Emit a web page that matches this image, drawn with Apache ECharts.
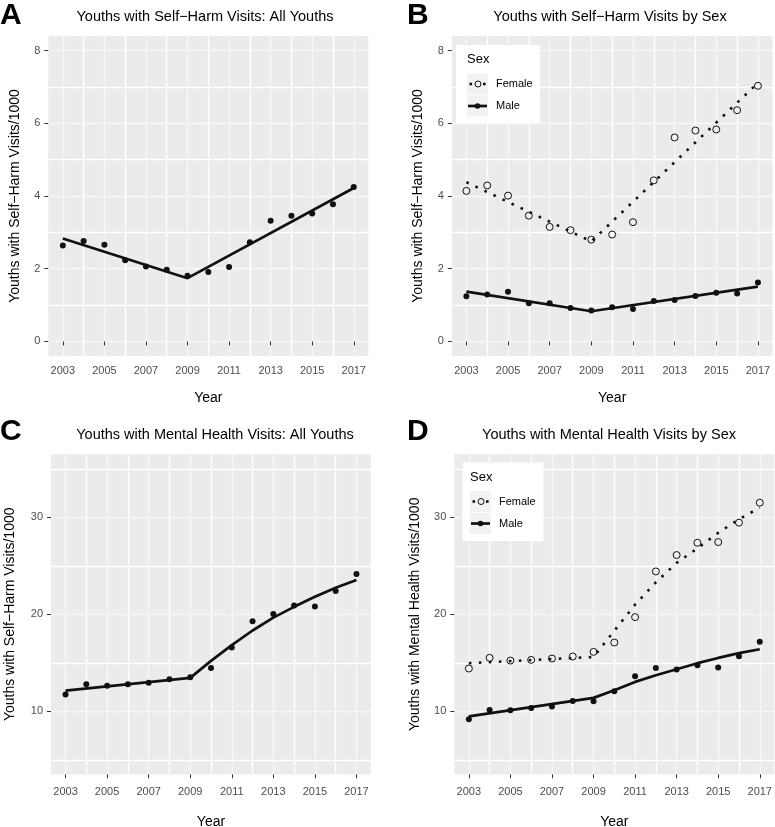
<!DOCTYPE html>
<html>
<head>
<meta charset="utf-8">
<script src="https://cdn.jsdelivr.net/npm/echarts@6/dist/echarts.min.js"></script>
<style>
html,body{margin:0;padding:0;background:#fff;}
#chart{width:775px;height:827px;}
</style>
</head>
<body>
<div id="chart"></div>
<script>
// ---------- data ----------
const years = [2003,2004,2005,2006,2007,2008,2009,2010,2011,2012,2013,2014,2015,2016,2017];
const xTickYears = [2003,2005,2007,2009,2011,2013,2015,2017];
const selfHarmTicks = [0,2,4,6,8];
const mentalTicks = [10,20,30];

// Panel A: self-harm, all youths
const allSelfHarm = [2.64,2.76,2.66,2.23,2.06,1.97,1.81,1.91,2.05,2.73,3.32,3.46,3.52,3.77,4.25];
const fitYearsAllSelfHarm = [2003,2009,2017];
const fitAllSelfHarm = [2.83,1.74,4.22];

// Panel B: self-harm by sex
const femaleSelfHarm = [4.14,4.29,4.01,3.46,3.15,3.06,2.80,2.94,3.28,4.43,5.61,5.80,5.83,6.36,7.03];
const maleSelfHarm = [1.24,1.29,1.37,1.05,1.05,0.92,0.85,0.94,0.89,1.11,1.14,1.25,1.34,1.32,1.62];
const fitYearsSexSelfHarm = [2003,2009,2017];
const fitFemaleSelfHarm = [4.38,2.75,7.11];
const fitMaleSelfHarm = [1.37,0.83,1.51];

// Panel C: mental health, all youths
const allMental = [11.72,12.79,12.62,12.79,12.93,13.30,13.51,14.47,16.57,19.29,20.02,20.91,20.81,22.39,24.15];
const fitYearsAllMental = [2003,2009,2010,2011,2012,2013,2014,2015,2016,2017];
const fitAllMental = [12.13,13.44,15.2,16.82,18.33,19.66,20.77,21.81,22.74,23.53];

// Panel D: mental health by sex
const femaleMental = [14.41,15.51,15.23,15.30,15.44,15.65,16.13,17.09,19.71,24.42,26.11,27.38,27.45,29.45,31.51];
const maleMental = [9.17,10.14,10.10,10.34,10.48,11.07,11.03,12.07,13.61,14.47,14.30,14.75,14.51,15.68,17.16];
const fitYearsSexMental = [2003,2009,2010,2011,2012,2013,2014,2015,2016,2017];
const fitFemaleMental = [14.96,15.6,18.3,21.0,23.3,25.3,26.8,28.4,29.8,31.0];
const fitMaleMental = [9.48,11.38,12.17,13.03,13.72,14.34,14.96,15.5,15.99,16.4];

// ---------- styling / layout ----------
const FONT = "'Liberation Sans', Arial, Helvetica, sans-serif";
const INK = '#111111';
const BG = '#EBEBEB';
const MAJOR = '#FFFFFF';
const MINOR = '#F7F7F7';

const panels = [
  {grid:{left:48.3, top:36, width:320, height:320}, yMin:-0.4, yMax:8.4, yTicks:selfHarmTicks, ySplit:9, yColors:[MINOR, MAJOR],
   yName:'Youths with Self\u2212Harm Visits/1000', yNameGap:26, xNameGap:35, xLabelMargin:9.5},
  {grid:{left:451.8, top:36, width:320.7, height:320}, yMin:-0.4, yMax:8.4, yTicks:selfHarmTicks, ySplit:9, yColors:[MINOR, MAJOR],
   yName:'Youths with Self\u2212Harm Visits/1000', yNameGap:27, xNameGap:35, xLabelMargin:9.5},
  {grid:{left:51, top:454.3, width:320, height:320}, yMin:3.5, yMax:36.5, yTicks:mentalTicks, ySplit:7, yColors:[MAJOR, MINOR],
   yName:'Youths with Self\u2212Harm Visits/1000', yNameGap:34, xNameGap:41, xLabelMargin:12.5},
  {grid:{left:454.3, top:454.3, width:320, height:320}, yMin:3.5, yMax:36.5, yTicks:mentalTicks, ySplit:7, yColors:[MAJOR, MINOR],
   yName:'Youths with Mental Health Visits/1000', yNameGap:32, xNameGap:41, xLabelMargin:12.5}
];

const grid = [], xAxis = [], yAxis = [], series = [];
panels.forEach((p, g) => {
  grid.push(Object.assign({show:true, backgroundColor:BG, borderWidth:0, containLabel:false, outerBoundsMode:'none'}, p.grid));
  // visible x axis: ticks + labels at odd years
  xAxis.push({
    gridIndex:g, type:'value', min:2002.3, max:2017.7,
    axisLine:{show:false},
    axisTick:{show:true, customValues:xTickYears, length:4, lineStyle:{color:'#333', width:1}},
    axisLabel:{show:true, customValues:xTickYears, formatter:v=>String(v), color:'#4D4D4D', fontSize:11, fontFamily:FONT, margin:p.xLabelMargin},
    splitLine:{show:false},
    name:'Year', nameLocation:'middle', nameGap:p.xNameGap,
    nameTextStyle:{color:'#000', fontSize:14, fontFamily:FONT}
  });
  // grid-line x axis: one line per year (major on odd years, minor on even years)
  xAxis.push({
    gridIndex:g, type:'value', min:2002.3, max:2017.7, splitNumber:15,
    axisLine:{show:false}, axisTick:{show:false}, axisLabel:{show:false},
    splitLine:{show:true, showMinLine:false, showMaxLine:false, lineStyle:{color:[MINOR, MAJOR], width:1.4}}
  });
  yAxis.push({
    gridIndex:g, type:'value', min:p.yMin, max:p.yMax, position:'left',
    axisLine:{show:false},
    axisTick:{show:true, customValues:p.yTicks, length:4, lineStyle:{color:'#333', width:1}},
    axisLabel:{show:true, customValues:p.yTicks, formatter:v=>String(v), color:'#4D4D4D', fontSize:11, fontFamily:FONT, margin:8},
    splitLine:{show:false},
    name:p.yName, nameLocation:'middle', nameGap:p.yNameGap,
    nameTextStyle:{color:'#000', fontSize:14, fontFamily:FONT}
  });
  yAxis.push({
    gridIndex:g, type:'value', min:p.yMin, max:p.yMax, position:'left', splitNumber:p.ySplit,
    axisLine:{show:false}, axisTick:{show:false}, axisLabel:{show:false},
    splitLine:{show:true, showMinLine:false, showMaxLine:false, lineStyle:{color:p.yColors, width:1.4}}
  });
});

function pts(xs, ys){ return xs.map((x,i)=>[x, ys[i]]); }
function filledPoints(g, name, vals){
  return {type:'scatter', name, xAxisIndex:2*g, yAxisIndex:2*g, data:pts(years, vals),
    symbol:'circle', symbolSize:6, itemStyle:{color:INK, opacity:1}, z:3, silent:true};
}
function openPoints(g, name, vals){
  return {type:'scatter', name, xAxisIndex:2*g, yAxisIndex:2*g, data:pts(years, vals),
    symbol:'circle', symbolSize:7, itemStyle:{color:'rgba(0,0,0,0)', borderColor:INK, borderWidth:1, opacity:1}, z:3, silent:true};
}
function solidFit(g, name, xs, ys){
  return {type:'line', name, xAxisIndex:2*g, yAxisIndex:2*g, data:pts(xs, ys),
    showSymbol:false, symbol:'none', lineStyle:{color:INK, width:2.7}, z:4, silent:true, animation:false};
}
function dottedFit(g, name, xs, ys){
  return {type:'line', name, xAxisIndex:2*g, yAxisIndex:2*g, data:pts(xs, ys),
    showSymbol:false, symbol:'none', lineStyle:{color:INK, width:2.6, type:[2.6,7.4]}, z:4, silent:true, animation:false};
}

series.push(filledPoints(0, 'All points A', allSelfHarm));
series.push(solidFit(0, 'All fit A', fitYearsAllSelfHarm, fitAllSelfHarm));

series.push(openPoints(1, 'Female points B', femaleSelfHarm));
series.push(filledPoints(1, 'Male points B', maleSelfHarm));
series.push(dottedFit(1, 'Female fit B', fitYearsSexSelfHarm, fitFemaleSelfHarm));
series.push(solidFit(1, 'Male fit B', fitYearsSexSelfHarm, fitMaleSelfHarm));

series.push(filledPoints(2, 'All points C', allMental));
series.push(solidFit(2, 'All fit C', fitYearsAllMental, fitAllMental));

series.push(openPoints(3, 'Female points D', femaleMental));
series.push(filledPoints(3, 'Male points D', maleMental));
series.push(dottedFit(3, 'Female fit D', fitYearsSexMental, fitFemaleMental));
series.push(solidFit(3, 'Male fit D', fitYearsSexMental, fitMaleMental));

// ---------- annotations (titles, panel letters, legends) ----------
const titles = [
  {text:'Youths with Self\u2212Harm Visits: All Youths', x:205, y:17},
  {text:'Youths with Self\u2212Harm Visits by Sex', x:610, y:17},
  {text:'Youths with Mental Health Visits: All Youths', x:215, y:435},
  {text:'Youths with Mental Health Visits by Sex', x:609, y:435}
];
const letters = [
  {text:'A', x:0, y:1}, {text:'B', x:407, y:1}, {text:'C', x:0, y:417}, {text:'D', x:407, y:417}
];
const graphic = [];
titles.forEach(t => graphic.push({type:'text', x:t.x, y:t.y, z:10,
  style:{text:t.text, font:'14.5px ' + FONT, fill:'#000', textAlign:'center', textVerticalAlign:'middle'}}));
letters.forEach(t => graphic.push({type:'text', x:t.x, y:t.y, z:10,
  style:{text:t.text, font:'bold 30px ' + FONT, fill:'#000', textAlign:'left', textVerticalAlign:'top'}}));

function legendBox(bx, by, bw, bh, ox, oy){
  const keyY1 = oy + 24.5, keyY2 = oy + 46.5;
  const els = [
    {type:'rect', shape:{x:bx, y:by, width:bw, height:bh}, style:{fill:'#FFFFFF'}, z:20},
    {type:'text', x:ox, y:oy, z:21, style:{text:'Sex', font:'13px ' + FONT, fill:'#000', textAlign:'left', textVerticalAlign:'middle'}},
    {type:'rect', shape:{x:ox, y:keyY1-10.5, width:21, height:21}, style:{fill:'#F2F2F2'}, z:21},
    {type:'rect', shape:{x:ox, y:keyY2-10.5, width:21, height:21}, style:{fill:'#F2F2F2'}, z:21},
    {type:'rect', shape:{x:ox+2.5, y:keyY1-1.3, width:2.6, height:2.6}, style:{fill:INK}, z:22},
    {type:'rect', shape:{x:ox+16, y:keyY1-1.3, width:2.6, height:2.6}, style:{fill:INK}, z:22},
    {type:'circle', shape:{cx:ox+11, cy:keyY1, r:3}, style:{fill:'none', stroke:INK, lineWidth:1}, z:22},
    {type:'line', shape:{x1:ox+1, y1:keyY2, x2:ox+20, y2:keyY2}, style:{stroke:INK, lineWidth:2.7}, z:22},
    {type:'circle', shape:{cx:ox+10.5, cy:keyY2, r:2.8}, style:{fill:INK}, z:22},
    {type:'text', x:ox+29, y:keyY1, z:21, style:{text:'Female', font:'11px ' + FONT, fill:'#000', textAlign:'left', textVerticalAlign:'middle'}},
    {type:'text', x:ox+29, y:keyY2, z:21, style:{text:'Male', font:'11px ' + FONT, fill:'#000', textAlign:'left', textVerticalAlign:'middle'}}
  ];
  els.forEach(e => graphic.push(e));
}
legendBox(456, 45, 84, 78, 467, 59.5);
legendBox(462.5, 462.5, 81, 78.5, 470, 477);

const chart = echarts.init(document.getElementById('chart'), null, {renderer:'canvas'});
chart.setOption({
  animation:false,
  backgroundColor:'#FFFFFF',
  textStyle:{fontFamily:FONT},
  grid, xAxis, yAxis, series, graphic
});
</script>
</body>
</html>
